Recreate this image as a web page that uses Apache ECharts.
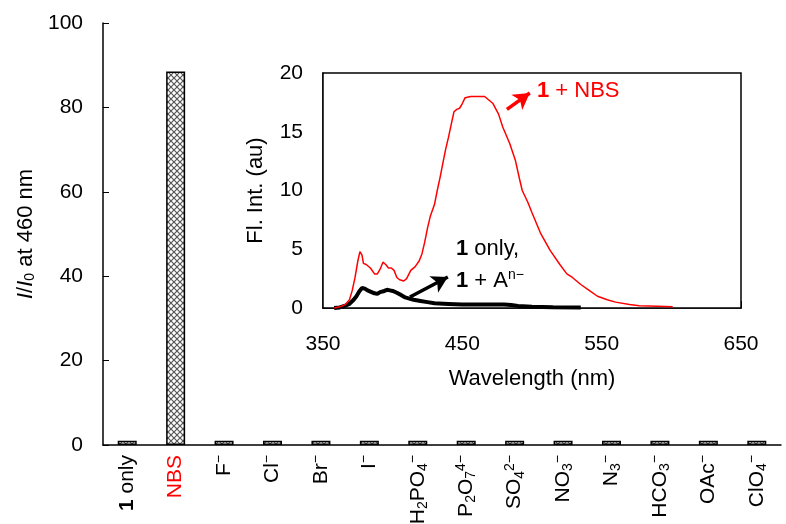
<!DOCTYPE html>
<html>
<head>
<meta charset="utf-8">
<script src="https://cdn.jsdelivr.net/npm/echarts@6/dist/echarts.min.js"></script>
<style>html,body{margin:0;padding:0;background:#fff}#c{width:786px;height:524px}</style>
</head>
<body>
<div id="c"></div>
<script>
// ---- data ----
const categories = ['1 only','NBS','F−','Cl−','Br−','I−','H2PO4−','P2O74−','SO42−','NO3−','N3−','HCO3−','OAc−','ClO4−'];
const categoryLabels = ['{b|1} only','{r|NBS}','F{sup|−}','Cl{sup|−}','Br{sup|−}','I{sup|−}','H{sub|2}PO{sub|4}{sup|−}','P{sub|2}O{sub|7}{sup|4−}','SO{sub|4}{sup|2−}','NO{sub|3}{sup|−}','N{sub|3}{sup|−}','HCO{sub|3}{sup|−}','OAc{sup|−}','ClO{sub|4}{sup|−}'];
const ratioValues = [1, 88.5, 1, 1, 1, 1, 1, 1, 1, 1, 1, 1, 1, 1];
const mainYTicks = [0, 20, 40, 60, 80, 100];

const nbsWl  = [358,362,366,369,371,373,375,376.5,378,379,381,384,387,389,391,393,395,397,399,401,403,405,408,410,413,416,419,421,423,425,427,430,432,434,436,438,440,442,444,446,448,450,452,456,462,466,469,472,476,479,484,488,491,493,497,500,506,513,520,525,529,535,541,547,554,560,570,577,590,601];
const nbsInt = [0,0.1,0.3,0.7,1.5,2.6,4.0,4.8,4.5,3.8,3.7,3.4,2.9,2.9,3.3,3.9,3.7,3.4,3.4,3.2,2.6,2.4,2.3,2.5,3.2,3.5,4.0,4.6,5.6,6.8,7.8,8.8,10.0,11.1,12.3,13.5,14.5,15.6,16.7,16.9,17.0,17.4,17.9,18.0,18.0,18.0,17.7,17.4,16.5,15.4,14.0,12.6,11.0,10.0,9.0,8.1,6.4,4.9,3.7,2.9,2.6,2.0,1.5,1.0,0.7,0.5,0.3,0.2,0.15,0.1];
const onlyWl  = [358,362,366,369,372,374,376,378,380,382,384,387,389,391,394,396,398,400,403,406,409,412,415,420,425,430,440,450,470,480,485,490,500,515,535];
const onlyInt = [0,0.05,0.2,0.35,0.7,1.0,1.4,1.7,1.65,1.5,1.4,1.25,1.2,1.35,1.45,1.55,1.5,1.45,1.3,1.1,0.9,0.8,0.7,0.6,0.5,0.4,0.35,0.3,0.3,0.3,0.25,0.18,0.1,0.07,0.05];
const insetXTicks = [350, 450, 550, 650];
const insetYTicks = [0, 5, 10, 15, 20];

// ---- cross-hatch pattern for bars ----
function makePattern() {
  const c = document.createElement('canvas');
  c.width = 6; c.height = 6;
  const g = c.getContext('2d');
  g.fillStyle = '#ffffff'; g.fillRect(0,0,6,6);
  g.strokeStyle = '#555555'; g.lineWidth = 1.2;
  g.beginPath();
  g.moveTo(0,0); g.lineTo(6,6);
  g.moveTo(6,0); g.lineTo(0,6);
  g.stroke();
  return c;
}

const FONT = 'Liberation Sans, Arial, sans-serif';
const chart = echarts.init(document.getElementById('c'), null, {renderer: 'canvas'});
const richLabel = {
  b: {fontWeight: 'bold', fontSize: 21, fontFamily: FONT, color: '#000'},
  r: {color: '#ff0000', fontSize: 21, fontFamily: FONT},
  sub: {fontSize: 14, fontFamily: FONT, color: '#000', verticalAlign: 'bottom', lineHeight: 12},
  sup: {fontSize: 14, fontFamily: FONT, color: '#000', verticalAlign: 'top', lineHeight: 12}
};

const option = {
  animation: false,
  backgroundColor: '#fff',
  textStyle: {fontFamily: FONT},
  grid: [
    {left: 103, right: 5, top: 23, bottom: 79, containLabel: false, outerBoundsMode: 'none'},
    {left: 323, right: 45, top: 73, bottom: 216, show: true, borderColor: '#000', borderWidth: 1.5, backgroundColor: '#fff', z: 5, outerBoundsMode: 'none'}
  ],
  xAxis: [
    {
      type: 'category', gridIndex: 0, data: categories,
      axisLine: {lineStyle: {color: '#000', width: 1.5}},
      axisTick: {inside: true, length: 5, lineStyle: {color: '#000', width: 1}},
      axisLabel: {
        rotate: 90, margin: 10, interval: 0, fontSize: 21, color: '#000', fontFamily: FONT,
        lineHeight: 24,
        formatter: (v, i) => categoryLabels[i],
        rich: richLabel
      }
    },
    {
      type: 'value', gridIndex: 1, min: 350, max: 650, interval: 100,
      axisLine: {lineStyle: {color: '#000', width: 1.5}},
      axisTick: {inside: true, length: 7, lineStyle: {color: '#000', width: 1}},
      axisLabel: {margin: 26, fontSize: 21, color: '#000', fontFamily: FONT},
      splitLine: {show: false},
      name: 'Wavelength (nm)', nameLocation: 'middle', nameGap: 60,
      nameTextStyle: {fontSize: 22, color: '#000', fontFamily: FONT}
    }
  ],
  yAxis: [
    {
      type: 'value', gridIndex: 0, min: 0, max: 100, interval: 20,
      axisLine: {show: true, lineStyle: {color: '#000', width: 1.5}},
      axisTick: {show: true, inside: true, length: 6, lineStyle: {color: '#000', width: 1}},
      axisLabel: {margin: 20, fontSize: 21, color: '#000', fontFamily: FONT},
      splitLine: {show: false},
      name: '{i|I}/{i|I}{sub|0} at 460 nm', nameLocation: 'middle', nameGap: 62,
      nameTextStyle: {fontSize: 22, color: '#000', fontFamily: FONT,
        rich: {i: {fontStyle: 'italic', fontSize: 22, fontFamily: FONT}, sub: {fontSize: 14, fontFamily: FONT, verticalAlign: 'bottom', lineHeight: 14}}}
    },
    {
      type: 'value', gridIndex: 1, min: 0, max: 20, interval: 5,
      axisLine: {show: true, lineStyle: {color: '#000', width: 1.5}},
      axisTick: {show: true, inside: true, length: 7, lineStyle: {color: '#000', width: 1}},
      axisLabel: {margin: 20, fontSize: 21, color: '#000', fontFamily: FONT},
      splitLine: {show: false},
      name: 'Fl. Int. (au)', nameLocation: 'middle', nameGap: 56,
      nameTextStyle: {fontSize: 22, color: '#000', fontFamily: FONT}
    }
  ],
  series: [
    {
      type: 'bar', xAxisIndex: 0, yAxisIndex: 0, data: ratioValues, barWidth: 19,
      itemStyle: {color: {image: makePattern(), repeat: 'repeat'}, borderColor: '#000', borderWidth: 1.5}
    },
    {
      type: 'line', xAxisIndex: 1, yAxisIndex: 1, z: 6,
      data: onlyWl.map((w, i) => [w, onlyInt[i]]),
      showSymbol: false, lineStyle: {color: '#000', width: 4},
      markLine: {
        silent: true, symbol: ['none', 'arrow'], symbolSize: [14, 16],
        label: {show: false}, lineStyle: {color: '#000', width: 3.5, type: 'solid'},
        data: [[{coord: [412.4, 0.94]}, {coord: [439.6, 2.64]}]]
      }
    },
    {
      type: 'line', xAxisIndex: 1, yAxisIndex: 1, z: 7,
      data: nbsWl.map((w, i) => [w, nbsInt[i]]),
      showSymbol: false, lineStyle: {color: '#ff0000', width: 1.5},
      markLine: {
        silent: true, symbol: ['none', 'arrow'], symbolSize: [14, 16],
        label: {show: false}, lineStyle: {color: '#ff0000', width: 3.5, type: 'solid'},
        data: [[{coord: [482, 16.9]}, {coord: [498.4, 18.3]}]]
      }
    }
  ],
  graphic: [
    {type: 'text', left: 537, top: 80, z: 10, style: {
      text: '{b|1} + NBS', fill: '#ff0000', font: '22px ' + FONT,
      rich: {b: {fontWeight: 'bold', fontSize: 22, fontFamily: FONT, fill: '#ff0000'}}}},
    {type: 'text', left: 456, top: 238, z: 10, style: {
      text: '{b|1} only,', fill: '#000', font: '22px ' + FONT,
      rich: {b: {fontWeight: 'bold', fontSize: 22, fontFamily: FONT}}}},
    {type: 'text', left: 456, top: 268, z: 10, style: {
      text: '{b|1} + A{sup|n−}', fill: '#000', font: '22px ' + FONT,
      rich: {b: {fontWeight: 'bold', fontSize: 22, fontFamily: FONT, lineHeight: 26}, sup: {fontSize: 14, fontFamily: FONT, verticalAlign: 'top', lineHeight: 14}}}}
  ]
};
chart.setOption(option);
</script>
</body>
</html>
